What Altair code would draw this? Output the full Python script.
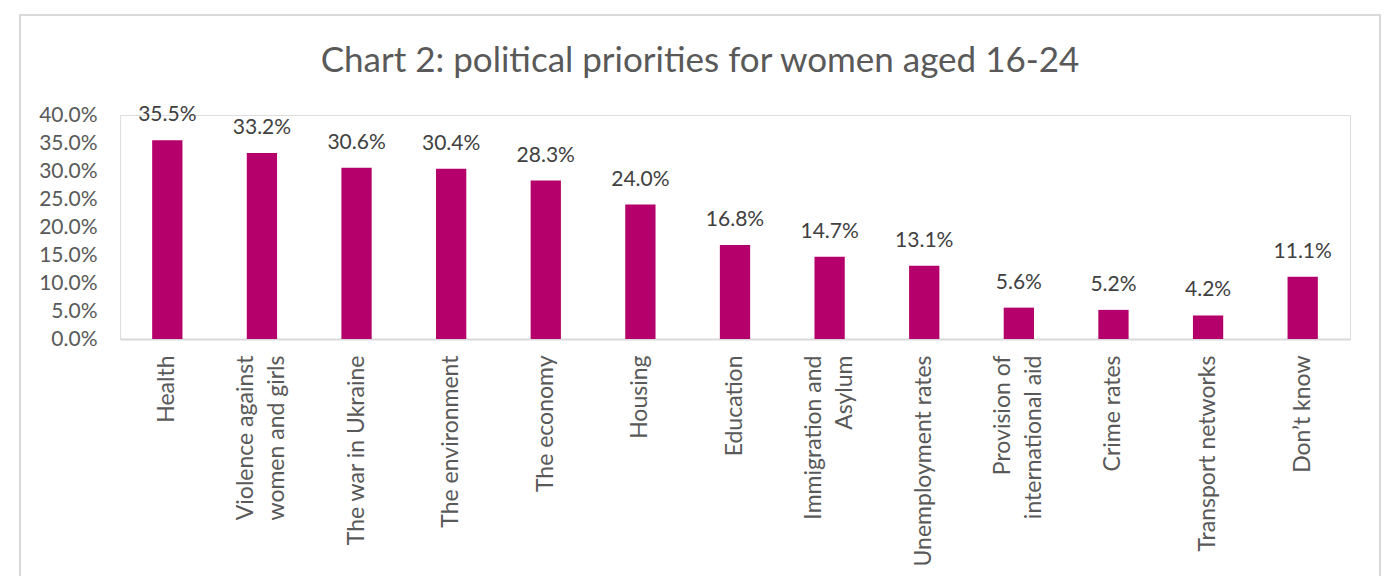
import altair as alt
import pandas as pd

categories = ["Health", "Violence against|women and girls", "The war in Ukraine",
              "The environment", "The economy", "Housing", "Education",
              "Immigration and|Asylum", "Unemployment rates",
              "Provision of|international aid", "Crime rates",
              "Transport networks", "Don\u2019t know"]
values = [35.5, 33.2, 30.6, 30.4, 28.3, 24.0, 16.8, 14.7, 13.1, 5.6, 5.2, 4.2, 11.1]
y_ticks = [0, 5, 10, 15, 20, 25, 30, 35, 40]

df = pd.DataFrame({"cat": categories, "val": [v / 100 for v in values]})

FONT = "Lato"
W, H = 1230, 224
NB = "\u00a0"

# centre the shorter line of two-line labels (non-breaking space padding)
label_expr = (
    "datum.label == 'Immigration and|Asylum' ? ['Immigration and', 'Asylum" + NB * 10 + "'] : "
    "datum.label == 'Provision of|international aid' ? ['Provision of" + NB * 5 + "', 'international aid'] : "
    "split(datum.label, '|')"
)

x_enc = alt.X("cat:N", sort=categories, title=None,
              scale=alt.Scale(paddingInner=0.68, paddingOuter=0.34),
              axis=alt.Axis(labelAngle=-90, labelAlign="right", labelBaseline="middle",
                            labelExpr=label_expr,
                            labelOffset={"condition": {"test": "indexof(datum.label, '|') >= 0",
                                                       "value": -15.5},
                                         "value": 0},
                            labelFont=FONT, labelFontSize=23, labelColor="#595959",
                            labelLineHeight=31, labelPadding=16, ticks=False,
                            domainColor="#d9d9d9", domainWidth=2, labelLimit=400,
                            labelOverlap=False))
y_enc = alt.Y("val:Q", title=None,
              scale=alt.Scale(domain=[0, 0.4], nice=False),
              axis=alt.Axis(values=[t / 100 for t in y_ticks], format=".1%",
                            grid=False, domain=False, ticks=False, labelOverlap=False,
                            labelFont=FONT, labelFontSize=21, labelColor="#595959",
                            labelPadding=23))

base = alt.Chart(df)
bars = base.mark_bar(color="#B5006B").encode(x=x_enc, y=y_enc)
labels = base.mark_text(font=FONT, fontSize=21, color="#404040",
                        baseline="alphabetic", dy=-19).encode(
    x=x_enc, y=y_enc,
    text=alt.Text("val:Q", format=".1%"))
border = alt.Chart(pd.DataFrame({"a": [1]})).mark_rect(
    fill=None, stroke="#d9d9d9", strokeWidth=2).encode(
    x=alt.value(-100), x2=alt.value(1260), y=alt.value(-100), y2=alt.value(470))

chart = alt.layer(border, bars, labels).properties(
    width=W, height=H,
    title=alt.TitleParams("Chart 2: political priorities for women aged 16-24",
                          font=FONT, fontSize=35, fontWeight="normal", color="#595959",
                          frame="group", anchor="middle", baseline="alphabetic",
                          offset=0, dx=-35, dy=93),
    autosize=alt.AutoSizeParams(type="none"),
    padding={"left": 120, "top": 115, "right": 42, "bottom": 237},
).configure_view(stroke=None).configure(background="white")

chart.save("out.html", embed_options={"renderer": "svg", "actions": False})
